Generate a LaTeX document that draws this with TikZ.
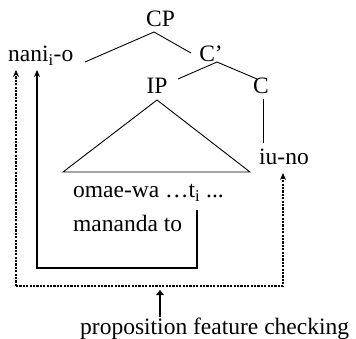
\documentclass[tikz,border=0pt]{standalone}
\usepackage{fontspec}
\setmainfont{Liberation Serif}
\usetikzlibrary{arrows.meta}
\begin{document}
\begin{tikzpicture}[x=1pt,y=-1pt,
  lbl/.style={inner sep=0pt,font=\fontsize{23.5}{28}\selectfont},
  branch/.style={line width=0.9pt},
  movearrow/.style={line width=1.1pt,-{Stealth[length=7pt,width=6pt]}},
  checkarrow/.style={line width=1.1pt,dash pattern=on 2.2pt off 1.2pt,-{Stealth[length=7pt,width=6pt]}},
  bigarrow/.style={line width=2.8pt,-{Triangle[length=5pt,width=7.5pt]}}]
\useasboundingbox (0,0) rectangle (356,339);

% labels of the tree
\node[lbl,anchor=base] (cp) at (160.5,27) {CP};
\node[lbl,anchor=base west] (nani) at (8,62) {nani\textsubscript{i}-o};
\node[lbl,anchor=base] (cbar) at (211,62) {C’};
\node[lbl,anchor=base] (ip) at (157,94) {IP};
\node[lbl,anchor=base] (c) at (261,94) {C};
\node[lbl,anchor=base west] (iuno) at (259,165) {iu-no};
\node[lbl,anchor=base west] (omae) at (73,198) {omae-wa \char"2026 t\textsubscript{i} ...};
\node[lbl,anchor=base west] (mananda) at (73,232) {mananda to};
\node[lbl,anchor=base west] (feature) at (80,334) {proposition feature checking};

% branch points
\coordinate (cpT) at (154,32);
\coordinate (cpL) at (85,62);
\coordinate (cpR) at (191,53);
\coordinate (cbT) at (217,62);
\coordinate (cbL) at (178,79);
\coordinate (cbR) at (257,79);
\coordinate (ipT) at (157,100);
\coordinate (ipL) at (63,172);
\coordinate (ipR) at (250,172);
\coordinate (cT) at (263,99);
\coordinate (cB) at (263,143);

\draw[branch] (cpL) -- (cpT) -- (cpR);
\draw[branch] (cbL) -- (cbT) -- (cbR);
\draw[branch] (ipL) -- (ipT) -- (ipR) -- cycle;
\draw[branch] (cT) -- (cB);

% movement of the wh-phrase
\coordinate (trace) at (197,210);
\coordinate (mvA) at (197,268);
\coordinate (mvB) at (37,268);
\coordinate (mvTip) at (37,70);
\draw[movearrow] (trace) -- (mvA) -- (mvB) -- (mvTip);

% checking relation between nani-o and iu-no
\coordinate (ckTipL) at (16,70);
\coordinate (ckA) at (16,286);
\coordinate (ckB) at (283,286);
\coordinate (ckTipR) at (283,173);
\draw[checkarrow] (ckA) -- (ckTipL);
\draw[checkarrow] (ckA) -- (ckB) -- (ckTipR);

% pointer to the caption
\coordinate (ptTail) at (160,317);
\coordinate (ptTip) at (160,290);
\draw[bigarrow] (ptTail) -- (ptTip);
\end{tikzpicture}
\end{document}
